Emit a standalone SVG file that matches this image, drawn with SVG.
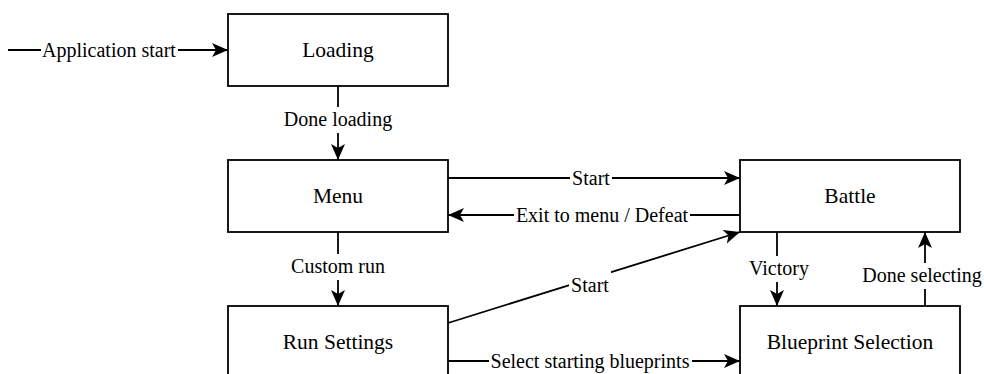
<svg xmlns="http://www.w3.org/2000/svg" width="984" height="374" viewBox="0 0 984 374">
<style>
.box{fill:#fff;stroke:#000;stroke-width:1.8}
text{font-family:'Liberation Serif','DejaVu Serif',serif;fill:#000;text-anchor:middle}
.bl{font-size:21.5px}
.el{font-size:20px}
.ln{fill:none;stroke:#000;stroke-width:1.8;marker-end:url(#arr)}
.bg{fill:#fff}
</style>
<defs>
<marker id="arr" markerUnits="userSpaceOnUse" markerWidth="17" markerHeight="14" refX="16" refY="7" orient="auto" overflow="visible">
<path d="M0,0 L16,7 L0,14 L4,7 Z" fill="#000"/>
</marker>
</defs>
<rect width="984" height="374" fill="#fff"/>
<g id="connectors">
<path class="ln" d="M8,50 L228,50"/>
<path class="ln" d="M338,86 L338,160"/>
<path class="ln" d="M338,232 L338,306"/>
<path class="ln" d="M448,178 L740,178"/>
<path class="ln" d="M740,215 L448,215"/>
<path class="ln" d="M448,323 L740,232"/>
<path class="ln" d="M448,361 L740,361"/>
<path class="ln" d="M777,232 L777,306"/>
<path class="ln" d="M925,306 L925,232"/>
<rect class="bg" x="41" y="38" width="137" height="25"/>
<text class="el" font-family="Liberation Serif, serif" x="109" y="57">Application start</text>
<rect class="bg" x="282" y="107" width="112" height="26"/>
<text class="el" font-family="Liberation Serif, serif" x="338" y="126">Done loading</text>
<rect class="bg" x="286" y="254" width="104" height="26"/>
<text class="el" font-family="Liberation Serif, serif" x="338" y="273">Custom run</text>
<rect class="bg" x="570" y="166" width="42" height="25"/>
<text class="el" font-family="Liberation Serif, serif" x="591" y="184.5">Start</text>
<rect class="bg" x="514" y="203" width="176" height="25"/>
<text class="el" font-family="Liberation Serif, serif" x="602" y="221.5">Exit to menu / Defeat</text>
<rect class="bg" x="569" y="270" width="42" height="26"/>
<text class="el" font-family="Liberation Serif, serif" x="590" y="292">Start</text>
<rect class="bg" x="489" y="349" width="203" height="25"/>
<text class="el" font-family="Liberation Serif, serif" x="590" y="367.5">Select starting blueprints</text>
<rect class="bg" x="748" y="256" width="62" height="26"/>
<text class="el" font-family="Liberation Serif, serif" x="779" y="275">Victory</text>
<rect class="bg" x="861" y="263" width="123" height="26"/>
<text class="el" font-family="Liberation Serif, serif" x="922" y="282">Done selecting</text>
</g>
<g id="loading"><rect class="box" x="228" y="14" width="220" height="72"/><text class="bl" font-family="Liberation Serif, serif" x="338" y="57">Loading</text></g>
<g id="menu"><rect class="box" x="228" y="160" width="220" height="72"/><text class="bl" font-family="Liberation Serif, serif" x="338" y="203">Menu</text></g>
<g id="battle"><rect class="box" x="740" y="160" width="220" height="72"/><text class="bl" font-family="Liberation Serif, serif" x="850" y="203">Battle</text></g>
<g id="run-settings"><rect class="box" x="228" y="306" width="220" height="72"/><text class="bl" font-family="Liberation Serif, serif" x="338" y="349">Run Settings</text></g>
<g id="blueprint-selection"><rect class="box" x="740" y="306" width="220" height="72"/><text class="bl" font-family="Liberation Serif, serif" x="850" y="349">Blueprint Selection</text></g>
</svg>
